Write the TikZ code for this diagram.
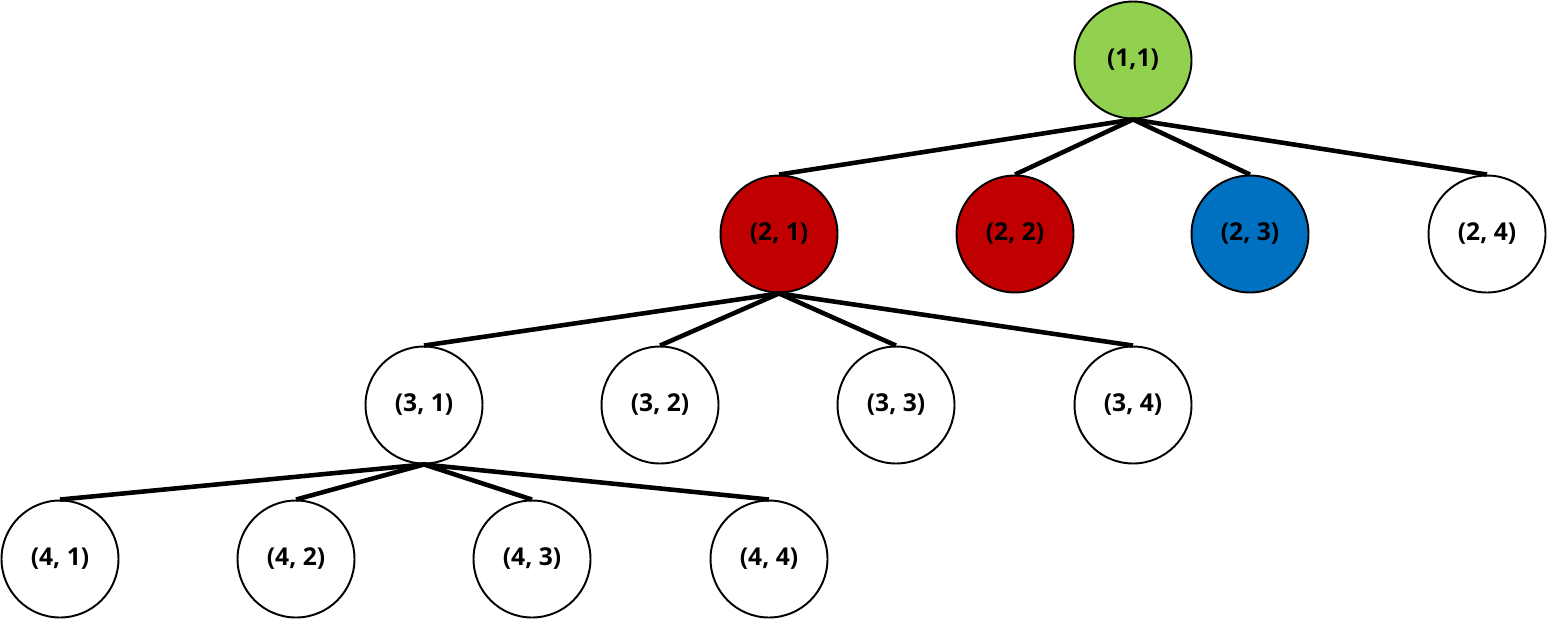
\documentclass[tikz,border=0pt]{standalone}
\usepackage{fontspec}
\setmainfont{Open Sans}
\definecolor{leafgreen}{HTML}{92D050}
\definecolor{darkred}{HTML}{C00000}
\definecolor{midblue}{HTML}{0070C0}
\tikzset{
	cell/.style={circle, draw=black, line width=1.1pt, minimum size=2.34cm, inner sep=0pt, font=\fontsize{14}{16}\selectfont\bfseries},
	link/.style={line width=2.6pt}
}
\begin{document}
\begin{tikzpicture}[x=0.02cm,y=-0.02cm]
	\useasboundingbox (0,0) rectangle (1547,619);
	\node[cell, fill=leafgreen] (11) at (1133,60) {(1,1)};
	\node[cell, fill=darkred] (21) at (779,234) {(2, 1)};
	\node[cell, fill=darkred] (22) at (1015,234) {(2, 2)};
	\node[cell, fill=midblue] (23) at (1250,234) {(2, 3)};
	\node[cell] (24) at (1487,234) {(2, 4)};
	\node[cell] (31) at (424,405) {(3, 1)};
	\node[cell] (32) at (660,405) {(3, 2)};
	\node[cell] (33) at (896,405) {(3, 3)};
	\node[cell] (34) at (1133,405) {(3, 4)};
	\node[cell] (41) at (60,559) {(4, 1)};
	\node[cell] (42) at (296,559) {(4, 2)};
	\node[cell] (43) at (532,559) {(4, 3)};
	\node[cell] (44) at (769,559) {(4, 4)};
	
	\foreach \c in {21,22,23,24}
		\draw[link] (11.south) -- (\c.north);
	\foreach \c in {31,32,33,34}
		\draw[link] (21.south) -- (\c.north);
	\foreach \c in {41,42,43,44}
		\draw[link] (31.south) -- (\c.north);
\end{tikzpicture}
\end{document}
